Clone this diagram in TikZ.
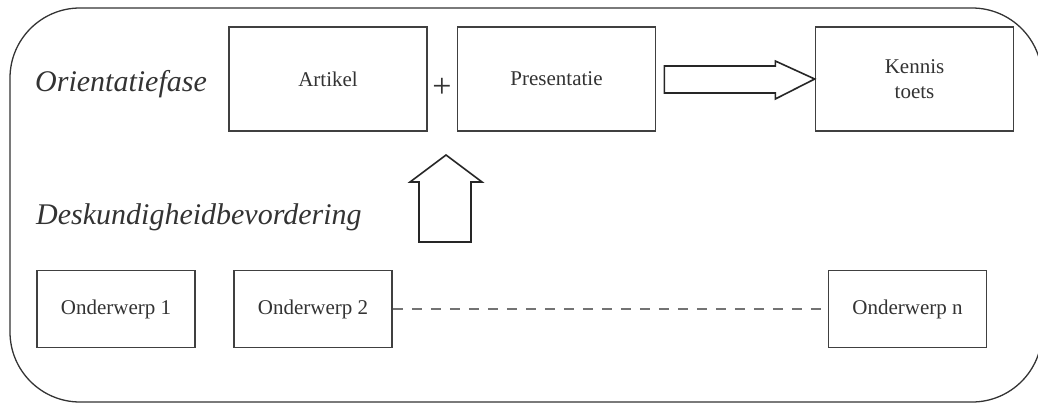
\documentclass[tikz,border=0pt]{standalone}
\usepackage{fontspec}
\setmainfont{Liberation Serif}
\usetikzlibrary{calc}

\tikzset{
	box/.style={draw=black!75, line width=1.6pt, fill=white, align=center, inner sep=0pt, text=black!80, font=\fontsize{21}{25}\selectfont},
	topbox/.style={box, minimum width=198pt, minimum height=104pt},
	subbox/.style={box, minimum width=158pt, minimum height=77pt},
	phase/.style={inner sep=0pt, text=black!80, font=\fontsize{30}{36}\selectfont\itshape},
	blockarrow/.style={draw=black!85, line width=1.6pt, fill=white, line join=miter},
}

\begin{document}
\begin{tikzpicture}[x=1pt, y=1pt]
	\useasboundingbox (0,0) rectangle (1038,405);
	% Drawing the frame
	\draw[black!80, line width=1.3pt, rounded corners=70pt] (10,3) rectangle (1042,397);

	% Drawing the phase labels
	\node[phase] (orient) at (121,321) {Orientatiefase};
	\node[phase, anchor=west] (desk) at (36,188) {Deskundigheidbevordering};

	% Drawing the top boxes
	\node[topbox] (artikel) at (328,326) {Artikel};
	\node[topbox] (pres) at (556.5,326) {Presentatie};
	\node[topbox] (kennis) at (914.5,326) {Kennis\\toets};
	\node[inner sep=0pt, text=black!80, font=\fontsize{34}{34}\selectfont] (plus) at (442,317) {+};

	% Drawing the subject boxes
	\node[subbox] (ond1) at (116,96) {Onderwerp 1};
	\node[subbox] (ond2) at (313,96) {Onderwerp 2};
	\node[subbox] (ondn) at (907.5,96) {Onderwerp n};
	\draw[black!55, line width=1.8pt, dash pattern=on 10pt off 9pt] (ond2) -- (ondn);

	% Drawing the block arrows
	\coordinate (uptip) at (446,250);
	\draw[blockarrow] (uptip) -- ++(36,-27) -- ++(-11,0) -- ++(0,-60) -- ++(-52,0) -- ++(0,60) -- ++(-9,0) -- cycle;
	\draw[blockarrow] ($(pres.east)+(8,-14)$) -- ++(111,0) -- ++(0,-6) -- (kennis.west) -- ($(pres.east)+(119,18)$) -- ++(0,-5) -- ++(-111,0) -- cycle;
\end{tikzpicture}
\end{document}
